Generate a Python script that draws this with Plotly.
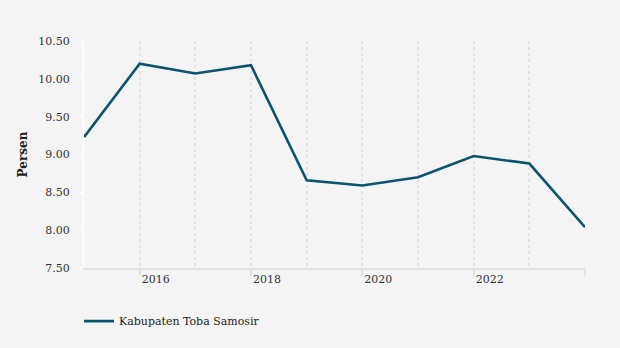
import plotly.graph_objects as go

# Annual series for Kabupaten Toba Samosir (percent)
years = [2015, 2016, 2017, 2018, 2019, 2020, 2021, 2022, 2023, 2024]
persen = [9.23, 10.20, 10.07, 10.18, 8.66, 8.59, 8.70, 8.98, 8.88, 8.04]
series_name = "Kabupaten Toba Samosir"

x_tickvals = [2016, 2018, 2020, 2022, 2024]
x_ticktext = ["2016", "2018", "2020", "2022", ""]
y_tickvals = [7.5, 8.0, 8.5, 9.0, 9.5, 10.0, 10.5]

font_family = "DejaVu Serif, Liberation Serif, serif"
grid_color = "#e2e2e2"

fig = go.Figure()
fig.add_trace(go.Scatter(
    x=years, y=persen, mode="lines", name=series_name,
    line=dict(color="#0a5470", width=2.6),
))

fig.update_layout(
    width=620, height=348,
    paper_bgcolor="#f4f4f4", plot_bgcolor="#f4f4f4",
    margin=dict(l=84, r=35, t=41, b=80, autoexpand=False),
    font=dict(family=font_family, size=11, color="#333333"),
    showlegend=True,
    legend=dict(orientation="h", x=-0.01, xanchor="left", y=-0.17, yanchor="top",
                font=dict(family=font_family, size=11, color="#222222"),
                bgcolor="rgba(0,0,0,0)"),
)

fig.update_xaxes(
    range=[2015, 2024],
    tickvals=x_tickvals, ticktext=x_ticktext,
    ticks="outside", ticklen=6, tickcolor=grid_color, tickwidth=2,
    ticklabelposition="outside right",
    showgrid=True, gridcolor=grid_color, griddash="3px,3px", gridwidth=2,
    minor=dict(dtick=1, tick0=2015, showgrid=True, gridcolor=grid_color,
               griddash="3px,3px", gridwidth=2, ticks=""),
    showline=True, linecolor="#e3e3e3", linewidth=2,
    zeroline=False,
    tickfont=dict(family=font_family, size=11, color="#333333"),
)

fig.update_yaxes(
    range=[7.5, 10.5],
    tickvals=y_tickvals, tickformat=".2f",
    ticks="outside", ticklen=5, tickcolor="#ffffff", tickwidth=1,
    ticklabelstandoff=6,
    showgrid=False,
    showline=True, linecolor="#ffffff", linewidth=1,
    zeroline=False,
    title=dict(text="<b>Persen</b>", font=dict(family=font_family, size=12, color="#222222"), standoff=8),
    tickfont=dict(family=font_family, size=11, color="#333333"),
)

fig.write_html("out.html")
